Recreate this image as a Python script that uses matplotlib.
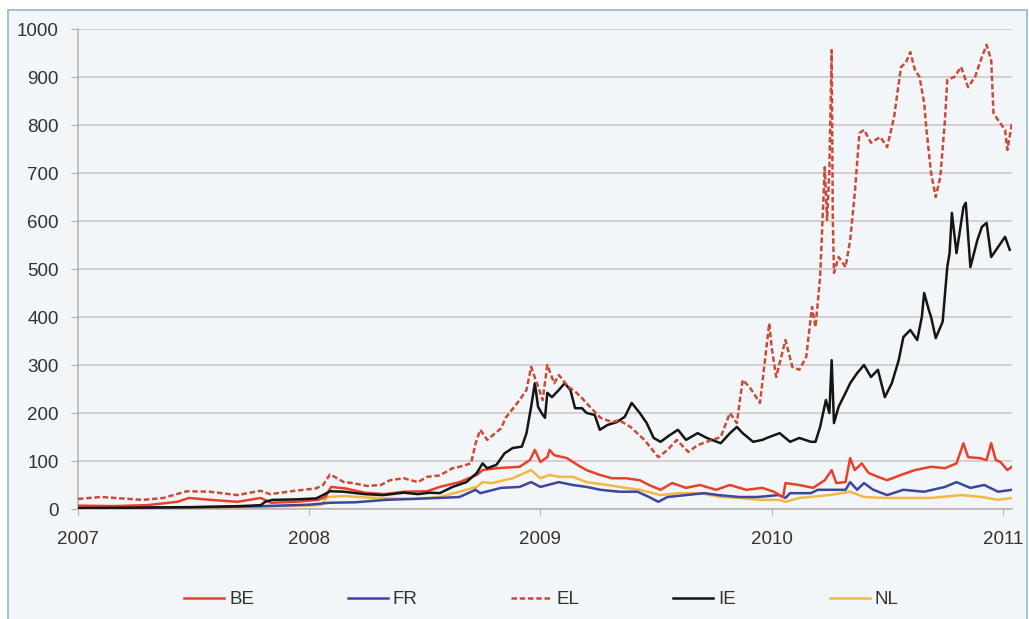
import matplotlib
matplotlib.use("Agg")
import matplotlib.pyplot as plt
from matplotlib.patches import Rectangle

plt.rcParams["font.family"] = ["Liberation Sans", "DejaVu Sans"]

# series: (decimal year, spread in bp)
be_x = [2007.00, 2007.15, 2007.30, 2007.43, 2007.48, 2007.575, 2007.69, 2007.79, 2007.835, 2007.94,
        2008.04, 2008.07, 2008.095, 2008.155, 2008.24, 2008.325, 2008.41, 2008.51, 2008.565, 2008.65,
        2008.725, 2008.75, 2008.81, 2008.91, 2008.955, 2008.976, 2009.00, 2009.03, 2009.04, 2009.06,
        2009.115, 2009.16, 2009.20, 2009.257, 2009.31, 2009.37, 2009.43, 2009.47, 2009.52, 2009.57,
        2009.63, 2009.69, 2009.76, 2009.82, 2009.89, 2009.96, 2010.01, 2010.05, 2010.06, 2010.12,
        2010.18, 2010.23, 2010.26, 2010.28, 2010.32, 2010.34, 2010.36, 2010.39, 2010.42, 2010.46,
        2010.50, 2010.56, 2010.62, 2010.69, 2010.75, 2010.80, 2010.83, 2010.85, 2010.90, 2010.93,
        2010.95, 2010.97, 2010.99, 2011.02, 2011.04]
be_y = [7, 6, 8, 15, 23, 19, 15, 23, 13, 15,
        19, 25, 46, 43, 34, 31, 36, 37, 46, 56,
        71, 81, 85, 88, 102, 123, 98, 108, 123, 112,
        106, 92, 81, 71, 64, 64, 60, 50, 40, 54,
        44, 50, 40, 50, 40, 44, 36, 25, 54, 50,
        44, 60, 81, 54, 56, 106, 81, 95, 75, 67,
        60, 71, 81, 88, 85, 95, 137, 108, 106, 102,
        137, 102, 98, 81, 88]

fr_x = [2007.00, 2007.30, 2007.60, 2007.80, 2008.00, 2008.09, 2008.20, 2008.33, 2008.45, 2008.56,
        2008.65, 2008.72, 2008.74, 2008.83, 2008.91, 2008.96, 2009.00, 2009.08, 2009.14, 2009.20,
        2009.26, 2009.34, 2009.42, 2009.47, 2009.51, 2009.55, 2009.63, 2009.71, 2009.77, 2009.86,
        2009.94, 2010.03, 2010.06, 2010.08, 2010.17, 2010.20, 2010.26, 2010.32, 2010.34, 2010.37,
        2010.40, 2010.44, 2010.50, 2010.57, 2010.66, 2010.75, 2010.80, 2010.86, 2010.92, 2010.98,
        2011.04]
fr_y = [3, 3, 4, 6, 9, 13, 14, 19, 21, 23,
        25, 40, 33, 44, 46, 56, 46, 56, 50, 46,
        40, 36, 36, 25, 15, 25, 29, 33, 29, 25,
        25, 29, 23, 33, 33, 40, 40, 40, 56, 40,
        54, 40, 29, 40, 36, 46, 56, 44, 50, 36,
        40]

el_x = [2007.00, 2007.10, 2007.28, 2007.37, 2007.47, 2007.57, 2007.69, 2007.79, 2007.83, 2007.94,
        2008.03, 2008.06, 2008.09, 2008.11, 2008.15, 2008.19, 2008.25, 2008.31, 2008.35, 2008.41,
        2008.47, 2008.51, 2008.565, 2008.62, 2008.65, 2008.70, 2008.72, 2008.74, 2008.77, 2008.83,
        2008.85, 2008.91, 2008.94, 2008.96, 2008.99, 2009.01, 2009.03, 2009.06, 2009.08, 2009.12,
        2009.15, 2009.18, 2009.22, 2009.26, 2009.31, 2009.34, 2009.39, 2009.45, 2009.51, 2009.55,
        2009.59, 2009.64, 2009.68, 2009.72, 2009.78, 2009.82, 2009.85, 2009.875, 2009.905, 2009.95,
        2009.99, 2010.00, 2010.02, 2010.06, 2010.09, 2010.12, 2010.15, 2010.175, 2010.19, 2010.21,
        2010.23, 2010.24, 2010.25, 2010.26, 2010.265, 2010.27, 2010.29, 2010.32, 2010.34, 2010.36,
        2010.38, 2010.40, 2010.43, 2010.47, 2010.50, 2010.53, 2010.56, 2010.58, 2010.60, 2010.62,
        2010.64, 2010.66, 2010.67, 2010.69, 2010.71, 2010.73, 2010.75, 2010.76, 2010.79, 2010.82,
        2010.85, 2010.88, 2010.91, 2010.93, 2010.95, 2010.96, 2010.98, 2011.01, 2011.02, 2011.04]
el_y = [21, 25, 19, 23, 37, 36, 29, 38, 31, 38,
        43, 50, 72, 67, 56, 54, 48, 50, 60, 64,
        56, 67, 70, 85, 88, 95, 137, 165, 144, 168,
        190, 227, 248, 296, 255, 227, 300, 262, 279, 255,
        245, 231, 210, 190, 181, 185, 171, 144, 108, 123,
        144, 119, 133, 140, 150, 200, 179, 269, 254, 221,
        387, 338, 275, 352, 296, 290, 317, 421, 379, 483,
        712, 602, 706, 956, 602, 492, 525, 504, 560, 658,
        783, 790, 763, 775, 754, 817, 921, 929, 952, 915,
        900, 846, 790, 700, 650, 692, 810, 894, 900, 921,
        879, 900, 942, 967, 935, 825, 810, 790, 748, 804]

ie_x = [2007.00, 2007.30, 2007.50, 2007.70, 2007.79, 2007.81, 2007.84, 2007.94, 2008.03, 2008.06,
        2008.09, 2008.15, 2008.24, 2008.32, 2008.41, 2008.47, 2008.52, 2008.565, 2008.62, 2008.68,
        2008.725, 2008.75, 2008.77, 2008.81, 2008.845, 2008.88, 2008.92, 2008.94, 2008.96, 2008.976,
        2008.99, 2009.005, 2009.02, 2009.03, 2009.05, 2009.08, 2009.105, 2009.13, 2009.15, 2009.18,
        2009.20, 2009.235, 2009.257, 2009.29, 2009.33, 2009.365, 2009.395, 2009.43, 2009.46, 2009.49,
        2009.52, 2009.56, 2009.595, 2009.63, 2009.68, 2009.72, 2009.78, 2009.82, 2009.85, 2009.875,
        2009.92, 2009.96, 2009.99, 2010.035, 2010.08, 2010.12, 2010.17, 2010.19, 2010.21, 2010.235,
        2010.25, 2010.26, 2010.27, 2010.29, 2010.32, 2010.34, 2010.37, 2010.40, 2010.43, 2010.46,
        2010.49, 2010.52, 2010.55, 2010.57, 2010.60, 2010.63, 2010.65, 2010.66, 2010.68, 2010.69,
        2010.71, 2010.74, 2010.76, 2010.77, 2010.78, 2010.80, 2010.83, 2010.84, 2010.86, 2010.89,
        2010.91, 2010.93, 2010.95, 2010.98, 2011.01, 2011.03]
ie_y = [2, 3, 4, 6, 8, 15, 19, 20, 22, 29,
        37, 36, 31, 29, 34, 31, 34, 33, 46, 56,
        75, 95, 85, 92, 116, 127, 130, 158, 213, 262,
        213, 200, 190, 242, 233, 248, 262, 248, 210, 210,
        200, 196, 165, 175, 181, 192, 221, 200, 179, 148,
        140, 154, 165, 144, 158, 148, 137, 158, 171, 158,
        140, 144, 150, 158, 140, 148, 140, 140, 171, 227,
        200, 310, 179, 213, 242, 262, 283, 300, 275, 290,
        233, 262, 310, 358, 373, 352, 400, 450, 415, 400,
        356, 390, 504, 533, 617, 533, 629, 638, 504, 560,
        588, 596, 525, 546, 567, 540]

nl_x = [2007.00, 2007.40, 2007.70, 2007.90, 2008.05, 2008.08, 2008.15, 2008.25, 2008.35, 2008.45,
        2008.565, 2008.65, 2008.725, 2008.75, 2008.79, 2008.88, 2008.96, 2009.00, 2009.04, 2009.08,
        2009.14, 2009.20, 2009.29, 2009.37, 2009.43, 2009.52, 2009.60, 2009.69, 2009.78, 2009.86,
        2009.95, 2010.03, 2010.06, 2010.12, 2010.25, 2010.34, 2010.40, 2010.49, 2010.58, 2010.69,
        2010.82, 2010.91, 2010.98, 2011.04]
nl_y = [2, 2, 4, 6, 8, 25, 27, 24, 22, 21,
        25, 36, 46, 56, 54, 64, 81, 64, 71, 67,
        67, 56, 50, 44, 40, 29, 33, 33, 25, 23,
        19, 19, 15, 23, 29, 36, 25, 23, 23, 23,
        29, 25, 19, 23]

names = ["BE", "FR", "EL", "IE", "NL"]
colors = ["#e8402a", "#3b479e", "#cc4a38", "#151515", "#f2b844"]
styles = ["-", "-", (0, (2.2, 1.1)), "-", "-"]
series = [(be_x, be_y), (fr_x, fr_y), (el_x, el_y), (ie_x, ie_y), (nl_x, nl_y)]

fig = plt.figure(figsize=(10.29, 6.19), dpi=100, facecolor="white")
# light panel with blue frame behind the chart
frame = Rectangle((8 / 1029, -0.05), 1019 / 1029, 1.05 - 10 / 619,
                  transform=fig.transFigure, facecolor="#f3f6f8",
                  edgecolor="#8fb8de", linewidth=1.2, zorder=-10)
fig.add_artist(frame)

ax = fig.add_axes([78 / 1029, 1 - 509 / 619, (1012 - 78) / 1029, (509 - 29) / 619])
ax.set_facecolor("#f3f6f8")
ax.set_zorder(1)

# draw order: keep NL/FR below, BE, IE, EL on top
order = [4, 1, 0, 3, 2]
for i in order:
    x, y = series[i]
    ax.plot(x, y, color=colors[i], linestyle=styles[i], linewidth=1.8,
            label=names[i], zorder=3 + order.index(i))

ax.set_xlim(2007, 2011.04)
ax.set_ylim(0, 1000)
ax.set_xticks([2007, 2008, 2009, 2010, 2011])
ax.set_xticklabels(["2007", "2008", "2009", "2010", "2011"])
ax.set_yticks(range(0, 1001, 100))

ax.grid(axis="y", color="#cbc4c4", linewidth=1.1)
ax.set_axisbelow(True)
for s in ["top", "right"]:
    ax.spines[s].set_visible(False)
for s in ["left", "bottom"]:
    ax.spines[s].set_color("#b5b0b0")
    ax.spines[s].set_linewidth(1.1)
ax.tick_params(axis="both", colors="#b5b0b0", labelcolor="#333333", labelsize=13.5)
ax.tick_params(axis="y", length=5, pad=9)
ax.tick_params(axis="x", length=4, pad=12)

handles, labels = ax.get_legend_handles_labels()
hmap = dict(zip(labels, handles))
fig.legend([hmap[n] for n in names], names, loc="center", bbox_to_anchor=(0.526, 0.031),
           ncol=5, frameon=False, fontsize=13.5, handlelength=2.15, handletextpad=0.25,
           columnspacing=5.0, labelcolor="#333333")

fig.savefig("out.png", dpi=100, facecolor=fig.get_facecolor())
